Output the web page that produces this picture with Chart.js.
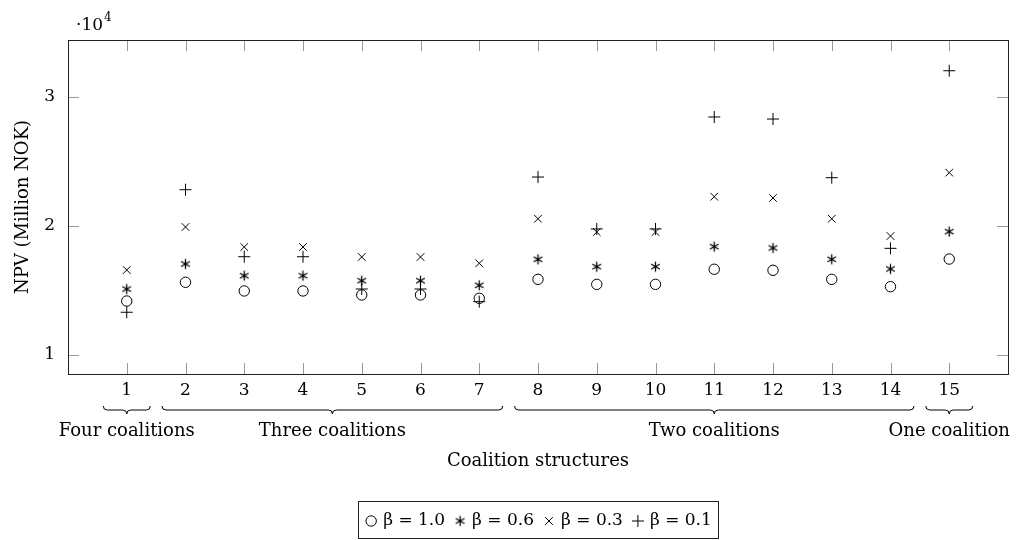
<!DOCTYPE html>
<html>
<head>
<meta charset="utf-8">
<script src="https://cdn.jsdelivr.net/npm/chart.js@4/dist/chart.umd.min.js"></script>
<style>
  body { margin: 0; background: #fff; }
  canvas { display: block; }
</style>
</head>
<body>
<canvas id="grafico" width="1022" height="540"></canvas>
<script>
// Coalition structures on the x axis
const categories = [1, 2, 3, 4, 5, 6, 7, 8, 9, 10, 11, 12, 13, 14, 15];

// NPV (Million NOK) for each beta
const beta10 = [14180, 15630, 14960, 14960, 14650, 14650, 14390, 15860, 15470, 15470, 16640, 16560, 15860, 15290, 17430];
const beta06 = [15110, 17050, 16140, 16140, 15750, 15750, 15400, 17410, 16840, 16840, 18390, 18290, 17410, 16660, 19550];
const beta03 = [16580, 19910, 18360, 18360, 17590, 17590, 17100, 20550, 19520, 19520, 22260, 22160, 20550, 19210, 24120];
const beta01 = [13310, 22800, 17610, 17610, 15110, 15110, 14130, 23780, 19760, 19760, 28430, 28270, 23730, 18260, 32010];

const yTicks = [10000, 20000, 30000];

// groups under the x axis
const groupLabels = ['Four coalitions', 'Three coalitions', 'Two coalitions', 'One coalition'];
const groupFrom = [1, 2, 8, 15];
const groupTo = [1, 7, 14, 15];

const fuente = 'DejaVu Serif';

// asterisco de 6 brazos (pgfplots)
function asterisco() {
    const c = document.createElement('canvas');
    c.width = 15; c.height = 15;
    const g = c.getContext('2d');
    g.strokeStyle = '#000';
    g.lineWidth = 1.3;
    const m = 7.5;
    g.beginPath();
    for (const a of [90, 30, 150]) {
        const r = a * Math.PI / 180;
        g.moveTo(m - 5 * Math.cos(r), m - 5 * Math.sin(r));
        g.lineTo(m + 5 * Math.cos(r), m + 5 * Math.sin(r));
    }
    g.stroke();
    return c;
}

function puntos(valores) {
    return categories.map((c, i) => ({ x: c, y: valores[i] }));
}

function llave(ctx, x1, x2, y, h) {
    const xm = (x1 + x2) / 2, q = h / 2;
    ctx.beginPath();
    ctx.moveTo(x1, y);
    ctx.quadraticCurveTo(x1, y + q, x1 + q, y + q);
    ctx.lineTo(xm - q, y + q);
    ctx.quadraticCurveTo(xm, y + q, xm, y + h);
    ctx.quadraticCurveTo(xm, y + q, xm + q, y + q);
    ctx.lineTo(x2 - q, y + q);
    ctx.quadraticCurveTo(x2, y + q, x2, y);
    ctx.stroke();
}

const extras = {
    id: 'extras',
    afterDraw(chart) {
        const ctx = chart.ctx;
        const a = chart.chartArea;
        const xs = chart.scales.x, ys = chart.scales.y;
        ctx.save();

        // ticks hacia dentro
        ctx.strokeStyle = '#999';
        ctx.lineWidth = 1;
        ctx.beginPath();
        categories.forEach(c => {
            const px = Math.round(xs.getPixelForValue(c)) + 0.5;
            ctx.moveTo(px, a.bottom); ctx.lineTo(px, a.bottom - 11);
            ctx.moveTo(px, a.top); ctx.lineTo(px, a.top + 11);
        });
        yTicks.forEach(v => {
            const py = Math.round(ys.getPixelForValue(v)) + 0.5;
            ctx.moveTo(a.left, py); ctx.lineTo(a.left + 11, py);
            ctx.moveTo(a.right, py); ctx.lineTo(a.right - 11, py);
        });
        ctx.stroke();

        // marco
        ctx.strokeStyle = '#222';
        ctx.strokeRect(Math.round(a.left) + 0.5, Math.round(a.top) + 0.5,
            Math.round(a.right - a.left), Math.round(a.bottom - a.top));

        // exponente
        ctx.fillStyle = '#000';
        ctx.textBaseline = 'alphabetic';
        ctx.textAlign = 'left';
        ctx.font = '17px "' + fuente + '"';
        ctx.fillText('·10', a.left + 8, 30);
        const w = ctx.measureText('·10').width;
        ctx.font = '12px "' + fuente + '"';
        ctx.fillText('4', a.left + 8 + w + 1, 21);

        // llaves y grupos
        ctx.strokeStyle = '#000';
        ctx.lineWidth = 1;
        ctx.font = '18px "' + fuente + '"';
        ctx.textAlign = 'center';
        ctx.textBaseline = 'middle';
        groupLabels.forEach((lab, i) => {
            const x1 = xs.getPixelForValue(groupFrom[i] - 0.4);
            const x2 = xs.getPixelForValue(groupTo[i] + 0.4);
            llave(ctx, x1, x2, 406, 8);
            const xc = xs.getPixelForValue((groupFrom[i] + groupTo[i]) / 2);
            ctx.fillText(lab, xc, 431);
        });

        // leyenda
        ctx.font = '17px "' + fuente + '"';
        ctx.textAlign = 'left';
        const items = chart.data.datasets;
        let total = 0;
        items.forEach(d => { total += 14 + 5 + ctx.measureText(d.label).width + 8; });
        total -= 8;
        let x = (a.left + a.right) / 2 - total / 2;
        const yc = 521;
        ctx.strokeStyle = '#222';
        ctx.lineWidth = 1;
        ctx.strokeRect(Math.round(x - 6) + 0.5, 501.5, Math.round(total + 12), 37);
        ctx.strokeStyle = '#000';
        items.forEach(d => {
            ctx.fillStyle = 'rgba(0,0,0,0)';
            Chart.helpers.drawPoint(ctx, {
                pointStyle: d.pointStyle, radius: d.pointRadius, rotation: 0, borderWidth: 1
            }, x + 7, yc);
            x += 19;
            ctx.fillStyle = '#000';
            ctx.fillText(d.label, x, yc);
            x += ctx.measureText(d.label).width + 8;
        });
        ctx.restore();
    }
};

new Chart(document.getElementById('grafico').getContext('2d'), {
    type: 'scatter',
    data: {
        datasets: [
            { label: 'β = 1.0', data: puntos(beta10), pointStyle: 'circle', pointRadius: 5.2 },
            { label: 'β = 0.6', data: puntos(beta06), pointStyle: asterisco(), pointRadius: 5 },
            { label: 'β = 0.3', data: puntos(beta03), pointStyle: 'crossRot', pointRadius: 5.4 },
            { label: 'β = 0.1', data: puntos(beta01), pointStyle: 'cross', pointRadius: 6 }
        ]
    },
    options: {
        responsive: false,
        animation: false,
        layout: { padding: { top: 40, right: 14, left: 0, bottom: 0 } },
        elements: {
            point: {
                borderColor: '#000',
                backgroundColor: 'rgba(0,0,0,0)',
                borderWidth: 1
            }
        },
        plugins: {
            legend: { display: false },
            tooltip: { enabled: false }
        },
        scales: {
            x: {
                type: 'linear',
                min: 0,
                max: 16,
                grid: { display: false, drawTicks: false },
                border: { display: false },
                afterBuildTicks: s => { s.ticks = categories.map(v => ({ value: v })); },
                afterFit: s => { s.height = 166; },
                ticks: {
                    color: '#000',
                    padding: 6,
                    maxRotation: 0,
                    autoSkip: false,
                    font: { family: fuente, size: 17 }
                },
                title: {
                    display: true,
                    text: 'Coalition structures',
                    color: '#000',
                    font: { family: fuente, size: 18 },
                    padding: { top: 0, bottom: 68 }
                }
            },
            y: {
                min: 8530,
                max: 34390,
                grid: { display: false, drawTicks: false },
                border: { display: false },
                afterBuildTicks: s => { s.ticks = yTicks.map(v => ({ value: v })); },
                afterFit: s => { s.width = 68; },
                ticks: {
                    color: '#000',
                    padding: 13,
                    font: { family: fuente, size: 17 },
                    callback: v => v / 10000
                },
                title: {
                    display: true,
                    text: 'NPV (Million NOK)',
                    color: '#000',
                    font: { family: fuente, size: 18 },
                    padding: { top: 13, bottom: 0 }
                }
            }
        }
    },
    plugins: [extras]
});
</script>
</body>
</html>
